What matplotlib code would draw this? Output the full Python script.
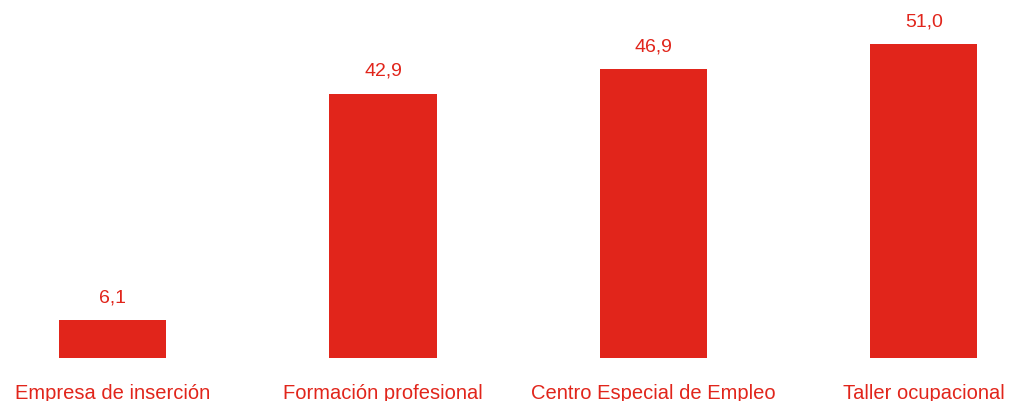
import matplotlib.pyplot as plt
import numpy as np

categorias = ['Empresa de inserción', 'Formación profesional', 'Centro Especial de Empleo', 'Taller ocupacional']
valores = [6.1, 42.9, 46.9, 51.0]
rotulos = ['6,1', '42,9', '46,9', '51,0']

rojo = '#E1251B'
plt.rcParams['font.family'] = ['Liberation Sans', 'DejaVu Sans']

fig = plt.figure(figsize=(10.11, 4.01), dpi=100)
ax = fig.add_axes([0, 43 / 401, 1, 358 / 401])
x = np.arange(len(categorias))
barras = ax.bar(x, valores, width=0.396, color=rojo)

ax.set_xlim(-0.416, 3.322)
ax.set_ylim(0, 58.15)

# etiquetas de valor sobre las barras
ax.bar_label(barras, labels=rotulos, padding=10, color=rojo, fontsize=14)

ax.set_xticks(x)
ax.set_xticklabels(categorias, color=rojo, fontsize=14.5)
ax.tick_params(left=False, bottom=False, labelleft=False, pad=15.5)
for s in ax.spines.values():
    s.set_visible(False)

fig.savefig('out.png', dpi=100)
